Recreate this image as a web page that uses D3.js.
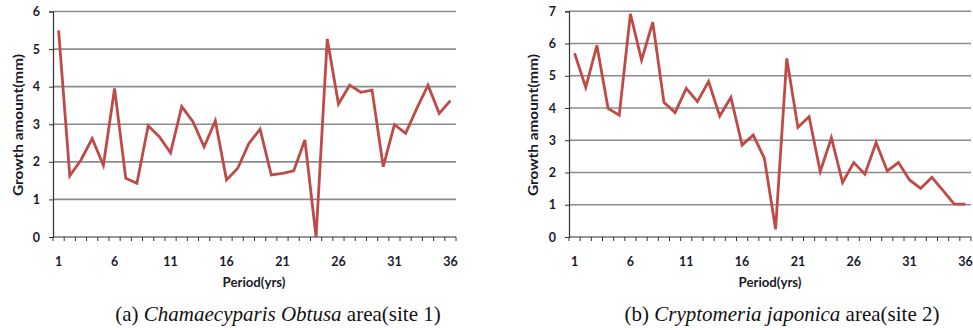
<!DOCTYPE html>
<html>
<head>
<meta charset="utf-8">
<script src="https://cdn.jsdelivr.net/npm/d3@7"></script>
<style>
  html, body { margin: 0; padding: 0; background: #fff; }
  svg { display: block; }
  .tick text { font-family: Lato, "Open Sans", sans-serif; font-weight: bold; font-size: 12.5px; fill: #1a1a2a; }
  .ttl { font-family: Lato, "Open Sans", sans-serif; font-weight: bold; font-size: 14px; fill: #1a1a2a; }
  .cap { font-family: "Liberation Serif", "Times New Roman", serif; font-size: 21px; fill: #111; }
</style>
</head>
<body>
<svg id="chart" width="973" height="330"></svg>
<script>
// Annual growth increments (mm) for the two stands, years 1..36
const periods = d3.range(1, 37);
const site1Growth = [5.5, 1.63, 2.05, 2.62, 1.91, 3.95, 1.56, 1.43, 2.96, 2.67,
  2.24, 3.47, 3.07, 2.40, 3.09, 1.52, 1.83, 2.49, 2.87, 1.65,
  1.69, 1.76, 2.58, 0.0, 5.27, 3.54, 4.04, 3.85, 3.91, 1.87,
  2.99, 2.76, 3.42, 4.04, 3.29, 3.63];
const site2Growth = [5.70, 4.64, 5.94, 3.99, 3.78, 6.92, 5.49, 6.66, 4.18, 3.86,
  4.61, 4.20, 4.82, 3.75, 4.33, 2.85, 3.16, 2.44, 0.24, 5.54,
  3.40, 3.73, 2.03, 3.08, 1.69, 2.31, 1.95, 2.93, 2.05, 2.31,
  1.77, 1.51, 1.85, 1.44, 1.02, 1.02];
const site1Ticks = [0, 1, 2, 3, 4, 5, 6];
const site2Ticks = [0, 1, 2, 3, 4, 5, 6, 7];
const xLabelYears = [1, 6, 11, 16, 21, 26, 31, 36];

const svg = d3.select("#chart");

// set a text element to a fixed width (narrow-font look)
function fitWidth(sel, w) {
  sel.attr("textLength", w).attr("lengthAdjust", "spacingAndGlyphs");
}

function panel(cfg) {
  const g = svg.append("g");
  const x = d3.scaleBand().domain(periods).range([cfg.x0, cfg.x1]);
  const y = d3.scaleLinear().domain([0, cfg.yMax]).range([cfg.yBottom, cfg.yTop]);

  // horizontal gridlines
  g.append("g").selectAll("line").data(cfg.yTicks.filter(d => d > 0)).join("line")
    .attr("x1", cfg.x0).attr("x2", cfg.x1)
    .attr("y1", d => y(d)).attr("y2", d => y(d))
    .attr("stroke", "#8c8c8c").attr("stroke-width", 1.6);

  // y axis
  const ya = g.append("g").attr("transform", `translate(${cfg.x0},0)`)
    .call(d3.axisLeft(y).tickValues(cfg.yTicks).tickSize(4).tickPadding(9).tickFormat(d3.format("d")));
  ya.select(".domain").attr("stroke", "#333").attr("stroke-width", 1.2);
  ya.selectAll(".tick line").attr("stroke", "#333");

  // x axis: ticks on category boundaries, labels every fifth year
  const xa = g.append("g").attr("transform", `translate(0,${cfg.yBottom})`);
  xa.append("line").attr("x1", cfg.x0).attr("x2", cfg.x1).attr("stroke", "#333").attr("stroke-width", 1.2);
  xa.selectAll("line.tk").data(periods.concat([37])).join("line").attr("class", "tk")
    .attr("x1", d => d <= 36 ? x(d) : cfg.x1).attr("x2", d => d <= 36 ? x(d) : cfg.x1)
    .attr("y1", 0).attr("y2", 4).attr("stroke", "#333");
  const xl = g.append("g").attr("transform", `translate(0,${cfg.yBottom})`)
    .call(d3.axisBottom(x).tickValues(xLabelYears).tickSize(0).tickPadding(20));
  xl.select(".domain").remove();

  // growth line
  const line = d3.line().x((d, i) => x(periods[i]) + x.bandwidth() / 2).y(d => y(d));
  g.append("path").datum(cfg.values).attr("d", line)
    .attr("fill", "none").attr("stroke", "#BE4B48").attr("stroke-width", 2.8)
    .attr("stroke-linejoin", "miter");

  // axis titles
  const yt = g.append("text").attr("class", "ttl")
    .attr("transform", `translate(${cfg.yTitleX},${cfg.yTitleY}) rotate(-90)`)
    .attr("text-anchor", "middle").attr("dominant-baseline", "central").text("Growth amount(mm)");
  fitWidth(yt, 142);
  const xt = g.append("text").attr("class", "ttl").attr("x", cfg.xTitleX).attr("y", 287)
    .attr("text-anchor", "middle").text("Period(yrs)");
  fitWidth(xt, 63);

  // caption
  const cap = g.append("text").attr("class", "cap").attr("x", cfg.capX).attr("y", 321).attr("text-anchor", "middle");
  cap.append("tspan").text(cfg.cap[0]);
  cap.append("tspan").attr("font-style", "italic").text(cfg.cap[1]);
  cap.append("tspan").text(cfg.cap[2]);
}

panel({ x0: 53, x1: 456, yTop: 11.5, yBottom: 237, yMax: 6, yTicks: site1Ticks,
  values: site1Growth, yTitleX: 17, yTitleY: 125, xTitleX: 254, capX: 278,
  cap: ["(a) ", "Chamaecyparis Obtusa", " area(site 1)"] });
panel({ x0: 569, x1: 971, yTop: 11.3, yBottom: 237, yMax: 7, yTicks: site2Ticks,
  values: site2Growth, yTitleX: 532, yTitleY: 125, xTitleX: 770, capX: 782,
  cap: ["(b) ", "Cryptomeria japonica", " area(site 2)"] });
</script>
</body>
</html>
